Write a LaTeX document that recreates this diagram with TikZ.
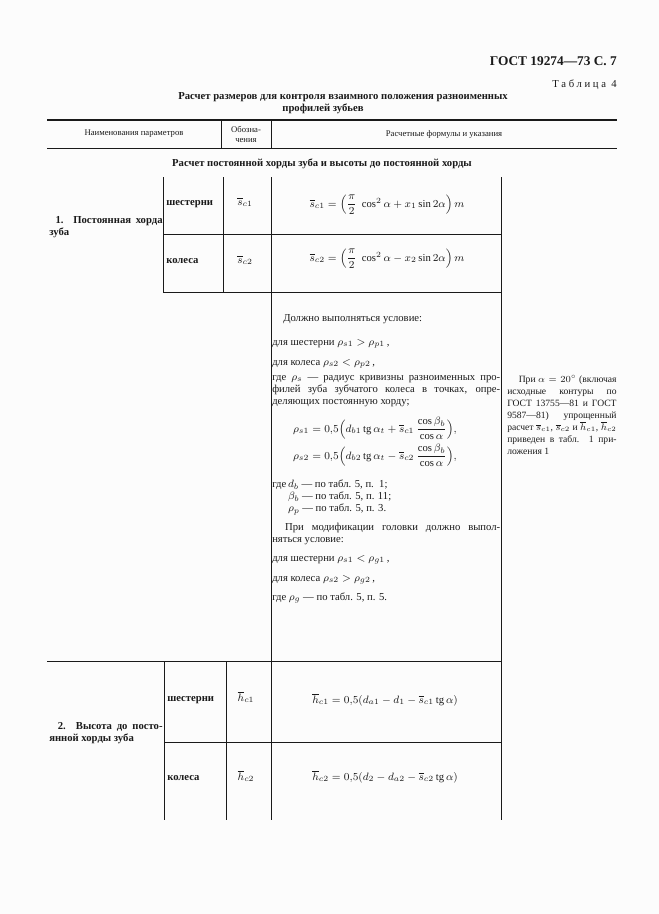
\documentclass[tikz,border=0pt]{standalone}
\usepackage{amsmath}
\usepackage{fontspec}
\setmainfont{Liberation Serif}
\usepackage{tikz}

\definecolor{paper}{HTML}{FCFCFC}
\definecolor{ink}{HTML}{1A1A1A}

\tikzset{
  tabrule/.style={line width=0.6pt, ink},
  toprule/.style={line width=1.1pt, ink},
  txt/.style={inner sep=0pt, text=ink, font=\fontsize{8}{9}\selectfont},
  smalltxt/.style={inner sep=0pt, text=ink, font=\fontsize{6.5}{7.5}\selectfont},
  notetxt/.style={inner sep=0pt, text=ink, font=\fontsize{7.2}{9}\selectfont},
  boldtxt/.style={inner sep=0pt, text=ink, font=\fontsize{8}{9}\selectfont\bfseries},
  para/.style={txt, text width=#1, align=justify, anchor=north west},
}

\begin{document}
\begin{tikzpicture}[x=0.75pt, y=-0.75pt]
\def\ybot{820}
\fill[paper] (0,0) rectangle (659,914);
\useasboundingbox (0,0) rectangle (659,914);

\node[boldtxt, font=\fontsize{10}{11}\selectfont\bfseries, anchor=base east] (gost) at (617,65) {ГОСТ 19274—73 С. 7};
\node[txt, anchor=base east] (tabnum) at (617,87) {\addfontfeature{LetterSpace=25}Таблица 4};
\node[boldtxt, anchor=base] (title1) at (343,99) {Расчет размеров для контроля взаимного положения разноименных};
\node[boldtxt, anchor=base] (title2) at (323,111) {профилей зубьев};

\draw[toprule] (47,120) -- (617,120);
\draw[tabrule] (47,148) -- (617,148);
\draw[tabrule] (221,120) -- (221,148) (271,120) -- (271,148);
\node[smalltxt] (colname) at (134,134) {Наименования параметров};
\node[smalltxt, align=center] (colsym) at (246,134) {Обозна-\\чения};
\node[smalltxt] (colform) at (444,134) {Расчетные формулы и указания};
\node[boldtxt, anchor=base] (section) at (322,166) {Расчет постоянной хорды зуба и высоты до постоянной хорды};

\draw[tabrule] (163,177) -- (163,292) (223,177) -- (223,292);
\draw[tabrule] (271,177) -- (271,\ybot) (501,177) -- (501,\ybot);
\draw[tabrule] (163,234) -- (501,234) (163,292) -- (501,292);

\node[para=85pt, font=\fontsize{8}{9}\selectfont\bfseries] (chord) at (49,216) {\hspace*{0.6em}1. Постоянная хорда\linebreak зуба};
\node[boldtxt, anchor=base west] (pinion1) at (166,205) {шестерни};
\node[boldtxt, anchor=base west] (wheel1) at (166,263) {колеса};
\node[txt, anchor=base] (sym1) at (245,205) {$\overline{s}_{c1}$};
\node[txt, anchor=base] (sym2) at (245,263) {$\overline{s}_{c2}$};
\node[txt, anchor=base] (fs1) at (387,207) {$\overline{s}_{c1}=\Bigl(\dfrac{\pi}{2}\;\cos^2\alpha+x_1\sin2\alpha\Bigr)\,m$};
\node[txt, anchor=base] (fs2) at (387,261) {$\overline{s}_{c2}=\Bigl(\dfrac{\pi}{2}\;\cos^2\alpha-x_2\sin2\alpha\Bigr)\,m$};

\node[txt, anchor=base west] (cond1) at (283,321) {Должно выполняться условие:};
\node[txt, anchor=base west] (ppin1) at (272,345) {для шестерни $\rho_{s1}>\rho_{p1}$\,,};
\node[txt, anchor=base west] (pwheel1) at (272,365) {для колеса $\rho_{s2}<\rho_{p2}$\,,};
\node[para=171pt] (rhodef) at (272,375) {где $\rho_s$ — радиус кривизны разноименных про-\linebreak филей зуба зубчатого колеса в точках, опре-\linebreak деляющих постоянную хорду;};
\node[txt, anchor=base] (frho1) at (375,432) {$\rho_{s1}=0{,}5\Bigl(d_{b1}\,\mathrm{tg}\,\alpha_t+\overline{s}_{c1}\,\dfrac{\cos\beta_b}{\cos\alpha}\Bigr),$};
\node[txt, anchor=base] (frho2) at (375,459) {$\rho_{s2}=0{,}5\Bigl(d_{b2}\,\mathrm{tg}\,\alpha_t-\overline{s}_{c2}\,\dfrac{\cos\beta_b}{\cos\alpha}\Bigr),$};
\node[txt, anchor=north west] (refs) at (272,479) {\begin{tabular}{@{}l@{\,}l@{}}где & $d_b$ — по табл. 5, п.\ \ 1;\\ & $\beta_b$ — по табл. 5, п. 11;\\ & $\rho_p$ — по табл. 5, п. 3.\end{tabular}};
\node[para=171pt] (modif) at (272,523) {\hspace*{1.2em}При модификации головки должно выпол-\linebreak няться условие:};
\node[txt, anchor=base west] (ppin2) at (272,561) {для шестерни $\rho_{s1}<\rho_{g1}$\,,};
\node[txt, anchor=base west] (pwheel2) at (272,581) {для колеса $\rho_{s2}>\rho_{g2}$\,,};
\node[txt, anchor=base west] (rhog) at (272,600) {где $\rho_g$ — по табл. 5, п. 5.};

\node[notetxt, text width=82pt, align=justify, anchor=north west] (note) at (507,375) {\hspace*{1.2em}При $\alpha=20^\circ$ (включая\linebreak исходные контуры по\linebreak ГОСТ 13755—81 и ГОСТ\linebreak 9587—81) упрощенный\linebreak расчет $\overline{s}_{c1}$, $\overline{s}_{c2}$ и $\overline{h}_{c1}$, $\overline{h}_{c2}$\linebreak приведен в табл. 1 при-\linebreak ложения 1};

\draw[tabrule] (47,661) -- (501,661);
\draw[tabrule] (164,661) -- (164,\ybot) (226,661) -- (226,\ybot);
\draw[tabrule] (164,742) -- (501,742);

\node[para=85pt, font=\fontsize{8}{9}\selectfont\bfseries] (height) at (49,722) {\hspace*{0.8em}2. Высота до посто-\linebreak янной хорды зуба};
\node[boldtxt, anchor=base west] (pinion2) at (167,701) {шестерни};
\node[boldtxt, anchor=base west] (wheel2) at (167,780) {колеса};
\node[txt, anchor=base] (sym3) at (246,701) {$\overline{h}_{c1}$};
\node[txt, anchor=base] (sym4) at (246,780) {$\overline{h}_{c2}$};
\node[txt, anchor=base] (fh1) at (385,703) {$\overline{h}_{c1}=0{,}5(d_{a1}-d_1-\overline{s}_{c1}\,\mathrm{tg}\,\alpha)$};
\node[txt, anchor=base] (fh2) at (385,780) {$\overline{h}_{c2}=0{,}5(d_2-d_{a2}-\overline{s}_{c2}\,\mathrm{tg}\,\alpha)$};
\end{tikzpicture}
\end{document}
